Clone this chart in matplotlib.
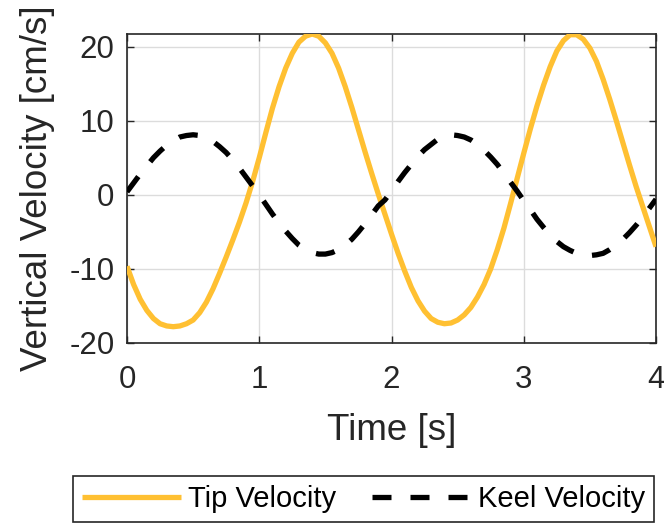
import numpy as np
import matplotlib
matplotlib.use("Agg")
import matplotlib.pyplot as plt

# time samples [s] (every 0.05 s) and velocities [cm/s]
time_s = np.round(np.arange(0, 81) * 0.05, 2)

tip_velocity = [
    -9.65, -12.1, -14.1, -15.6, -16.7, -17.4, -17.7, -17.8, -17.7, -17.4,
    -16.9, -15.9, -14.5, -12.7, -10.6, -8.4, -6.1, -3.7, -1.1, 1.8,
    5.0, 8.4, 11.7, 14.6, 17.1, 19.1, 20.6, 21.4, 21.7, 21.4,
    20.5, 19.1, 17.1, 14.6, 11.8, 8.8, 5.8, 2.9, 0.1, -2.6,
    -5.3, -7.9, -10.3, -12.5, -14.3, -15.7, -16.7, -17.2, -17.4, -17.3,
    -16.9, -16.2, -15.2, -13.8, -12.1, -10.0, -7.4, -4.5, -1.2, 2.2,
    5.6, 8.9, 12.0, 14.8, 17.3, 19.4, 20.8, 21.6, 21.6, 21.0,
    19.8, 18.0, 15.6, 12.9, 10.0, 7.0, 4.0, 1.1, -1.6, -4.3,
    -7.0,
]

keel_velocity = [
    0.4, 1.6, 2.8, 3.9, 5.0, 5.9, 6.7, 7.3, 7.8, 8.0,
    8.1, 8.0, 7.7, 7.2, 6.5, 5.7, 4.7, 3.6, 2.4, 1.2,
    0.0, -1.3, -2.6, -3.8, -4.9, -5.9, -6.8, -7.4, -7.8, -8.0,
    -8.0, -7.8, -7.4, -6.8, -6.0, -5.0, -3.9, -2.7, -1.5, -0.7,
    0.5, 1.8, 3.0, 4.1, 5.2, 6.1, 6.8, 7.5, 7.9, 8.1,
    8.0, 7.8, 7.4, 6.8, 6.0, 5.1, 4.1, 2.9, 1.7, 0.5,
    -0.8, -2.0, -3.3, -4.4, -5.4, -6.3, -7.0, -7.5, -7.9, -8.1,
    -8.2, -8.1, -7.9, -7.4, -6.8, -6.0, -5.1, -4.1, -3.0, -1.8,
    -0.6,
]

x_ticks = [0, 1, 2, 3, 4]
y_ticks = [-20, -10, 0, 10, 20]

plt.rcParams["font.family"] = ["Liberation Sans", "DejaVu Sans"]
plt.rcParams["axes.unicode_minus"] = False
dark = "#262626"

fig = plt.figure(figsize=(6.64, 5.27), dpi=100)
ax = fig.add_axes([127 / 664, 1 - 343 / 527, 529 / 664, 309 / 527])

ax.plot(time_s, tip_velocity, color="#FFC032", linewidth=3.8,
        solid_capstyle="butt", label="Tip Velocity", zorder=3)
ax.plot(time_s, keel_velocity, color="black", linewidth=3.8,
        dashes=(3.6, 3.6), dash_capstyle="butt", label="Keel Velocity", zorder=4)

ax.set_xlim(0, 4)
ax.set_ylim(-20, 21.7)
ax.set_xticks(x_ticks)
ax.set_yticks(y_ticks)
ax.grid(True, color="#dcdcdc", linewidth=1.0)
ax.set_axisbelow(True)

ax.tick_params(direction="in", length=5, width=1, colors=dark, labelsize=22.5,
               top=True, right=True)
ax.tick_params(axis="x", pad=16)
ax.tick_params(axis="y", pad=9)
for s in ax.spines.values():
    s.set_color(dark)
    s.set_linewidth(1.2)

ax.set_xlabel("Time [s]", fontsize=26.5, color=dark, labelpad=13)
ax.set_ylabel("Vertical Velocity [cm/s]", fontsize=26.5, color=dark, labelpad=10)

leg = fig.legend(loc="center", ncol=2,
                 bbox_to_anchor=(363.5 / 664, 1 - 499 / 527),
                 fontsize=21, handlelength=3.4, handletextpad=0.25,
                 columnspacing=1.2, borderpad=0.3, fancybox=False,
                 edgecolor=dark, framealpha=1)
leg.get_frame().set_linewidth(1.2)

fig.savefig("out.png", dpi=100)
